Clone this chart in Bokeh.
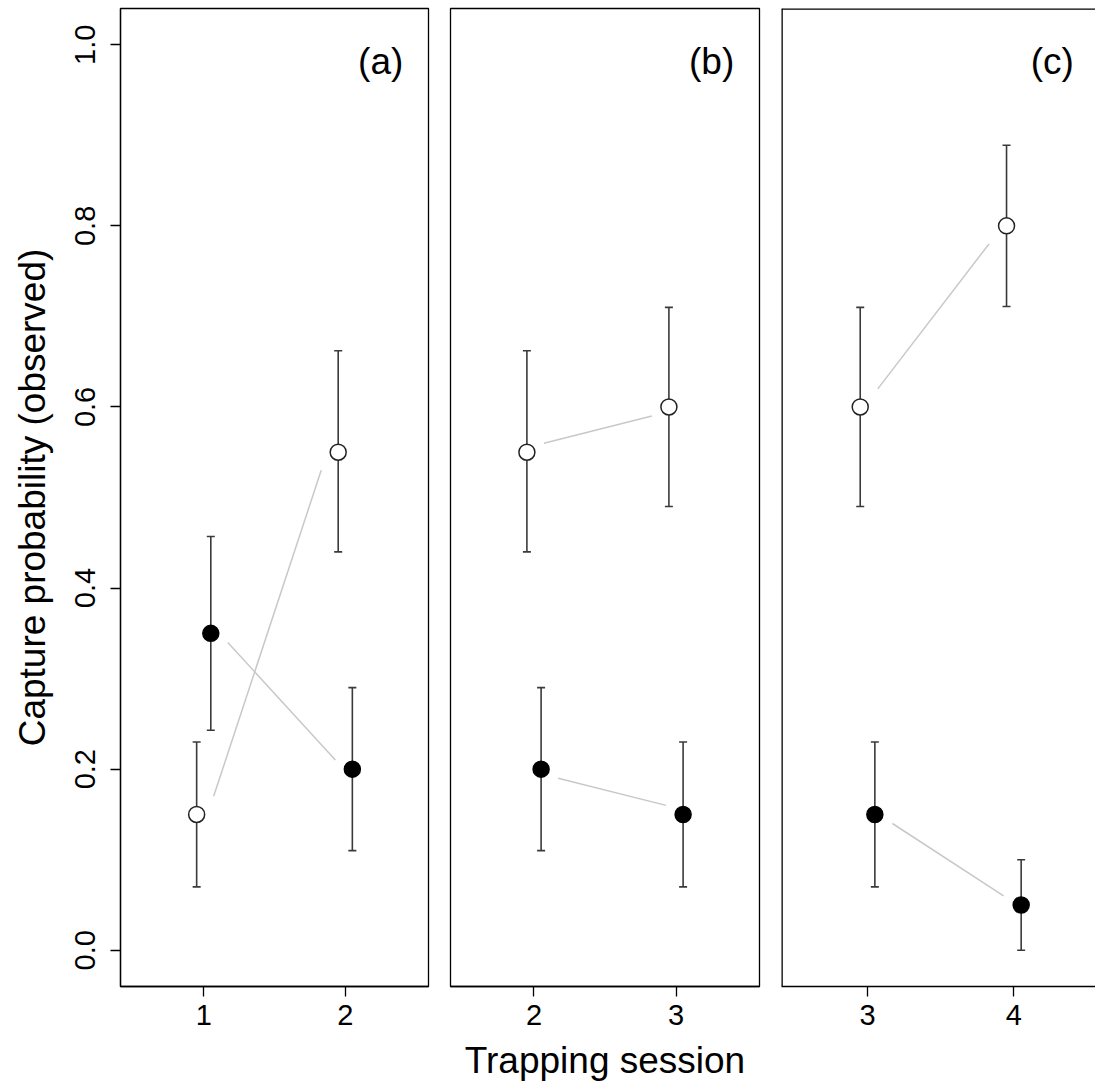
from bokeh.plotting import figure
from bokeh.layouts import row
from bokeh.models import Range1d, FixedTicker, PrintfTickFormatter, Label, Span
from bokeh.embed import file_html
from bokeh.resources import INLINE

# ---------------- data ----------------
panel_labels = ["(a)", "(b)", "(c)"]
sessions = [[1, 2], [2, 3], [3, 4]]

open_p = [[0.15, 0.55], [0.55, 0.60], [0.60, 0.80]]
open_lo = [[0.07, 0.44], [0.44, 0.49], [0.49, 0.711]]
open_hi = [[0.23, 0.662], [0.662, 0.71], [0.71, 0.889]]

filled_p = [[0.35, 0.20], [0.20, 0.15], [0.15, 0.05]]
filled_lo = [[0.243, 0.11], [0.11, 0.07], [0.07, 0.00]]
filled_hi = [[0.457, 0.29], [0.29, 0.23], [0.23, 0.10]]

y_ticks = [0.0, 0.2, 0.4, 0.6, 0.8, 1.0]
x_title = "Trapping session"
y_title = "Capture probability (observed)"

# ---------------- style ----------------
FONT = "Liberation Sans"
BAR = "#3a3a3a"
LINK = "#c8c8c8"
JIT = 0.05
FRAME_H = 978
frame_widths = [308, 309, 314]
x_pad_left = 0.588
x_right_ends = [2.588, 3.588, 4.558]
borders_left = [120, 11, 12]
borders_right = [11, 10, 0]
Y0, Y1 = -0.04, 1.04
TICK_FS = "29px"
TITLE_FS = "37px"


def shorten(x0, y0, x1, y1):
    dx = 0.12
    dy_off = 0.02 if abs(y1 - y0) >= 0.2 else 0.01
    sgn = 1 if y1 > y0 else -1
    return x0 + dx, y0 + sgn * dy_off, x1 - dx, y1 - sgn * dy_off


plots = []
for i in range(3):
    s = sessions[i]
    x_start = s[0] - x_pad_left
    p = figure(frame_width=frame_widths[i], frame_height=FRAME_H,
               x_range=Range1d(x_start, x_right_ends[i]),
               y_range=Range1d(Y0, Y1),
               output_backend="svg", toolbar_location=None,
               y_axis_location="left" if i == 0 else None,
               min_border_left=borders_left[i], min_border_right=borders_right[i],
               min_border_top=8, min_border_bottom=106)
    p.grid.visible = False
    p.background_fill_color = "white"
    p.border_fill_color = "white"

    # x axis (below)
    xa = p.below[0]
    xa.ticker = FixedTicker(ticks=s)
    xa.major_tick_out = 10
    xa.major_tick_in = 0
    xa.minor_tick_out = 0
    xa.minor_tick_in = 0
    xa.axis_line_color = "black"
    xa.axis_line_width = 1.3
    xa.major_tick_line_width = 1.3
    xa.major_label_text_font = FONT
    xa.major_label_text_font_size = TICK_FS
    xa.major_label_text_color = "black"
    xa.major_label_standoff = 8
    if i == 1:
        xa.axis_label = x_title
        xa.axis_label_text_font = FONT
        xa.axis_label_text_font_size = TITLE_FS
        xa.axis_label_text_font_style = "normal"
        xa.axis_label_text_color = "black"
        xa.axis_label_standoff = 12

    if i < 2:
        p.outline_line_color = "black"
        p.outline_line_width = 1.3
    else:
        p.outline_line_color = None
        p.add_layout(Span(location=x_start, dimension="height",
                          line_color="black", line_width=2.6))
        p.add_layout(Span(location=Y1, dimension="width",
                          line_color="black", line_width=2.6))

    if i == 0:
        ya = p.left[0]
        ya.ticker = FixedTicker(ticks=y_ticks)
        ya.formatter = PrintfTickFormatter(format="%.1f")
        ya.major_label_orientation = "vertical"
        ya.major_tick_out = 10
        ya.major_tick_in = 0
        ya.minor_tick_out = 0
        ya.minor_tick_in = 0
        ya.axis_line_color = "black"
        ya.axis_line_width = 1.3
        ya.major_tick_line_width = 1.3
        ya.major_label_text_font = FONT
        ya.major_label_text_font_size = TICK_FS
        ya.major_label_text_color = "black"
        ya.major_label_standoff = 15
        ya.axis_label = y_title
        ya.axis_label_text_font = FONT
        ya.axis_label_text_font_size = TITLE_FS
        ya.axis_label_text_font_style = "normal"
        ya.axis_label_text_color = "black"
        ya.axis_label_standoff = 20

    xo = [v - JIT for v in s]
    xf = [v + JIT for v in s]

    # connecting grey lines (shortened)
    segs = [shorten(xo[0], open_p[i][0], xo[1], open_p[i][1]),
            shorten(xf[0], filled_p[i][0], xf[1], filled_p[i][1])]
    p.segment(x0=[g[0] for g in segs], y0=[g[1] for g in segs],
              x1=[g[2] for g in segs], y1=[g[3] for g in segs],
              line_color=LINK, line_width=1.5)

    # error bars
    for xs, lo, hi in ((xo, open_lo[i], open_hi[i]), (xf, filled_lo[i], filled_hi[i])):
        p.segment(x0=xs, y0=lo, x1=xs, y1=hi, line_color=BAR, line_width=1.6)
        p.scatter(x=xs + xs, y=lo + hi, marker="dash", size=8,
                  line_color=BAR, line_width=1.6)

    # points
    p.scatter(x=xo, y=open_p[i], size=16, fill_color="white",
              line_color="#222222", line_width=1.5)
    p.scatter(x=xf, y=filled_p[i], size=16, fill_color="black",
              line_color="black", line_width=1.5)

    p.add_layout(Label(x=s[1] + 0.41, y=0.981, text=panel_labels[i],
                       text_align="right", text_baseline="middle",
                       text_font=FONT, text_font_size="37px", text_color="black"))
    plots.append(p)

layout = row(*plots, spacing=0)
open("out.html", "w").write(file_html(layout, INLINE))
